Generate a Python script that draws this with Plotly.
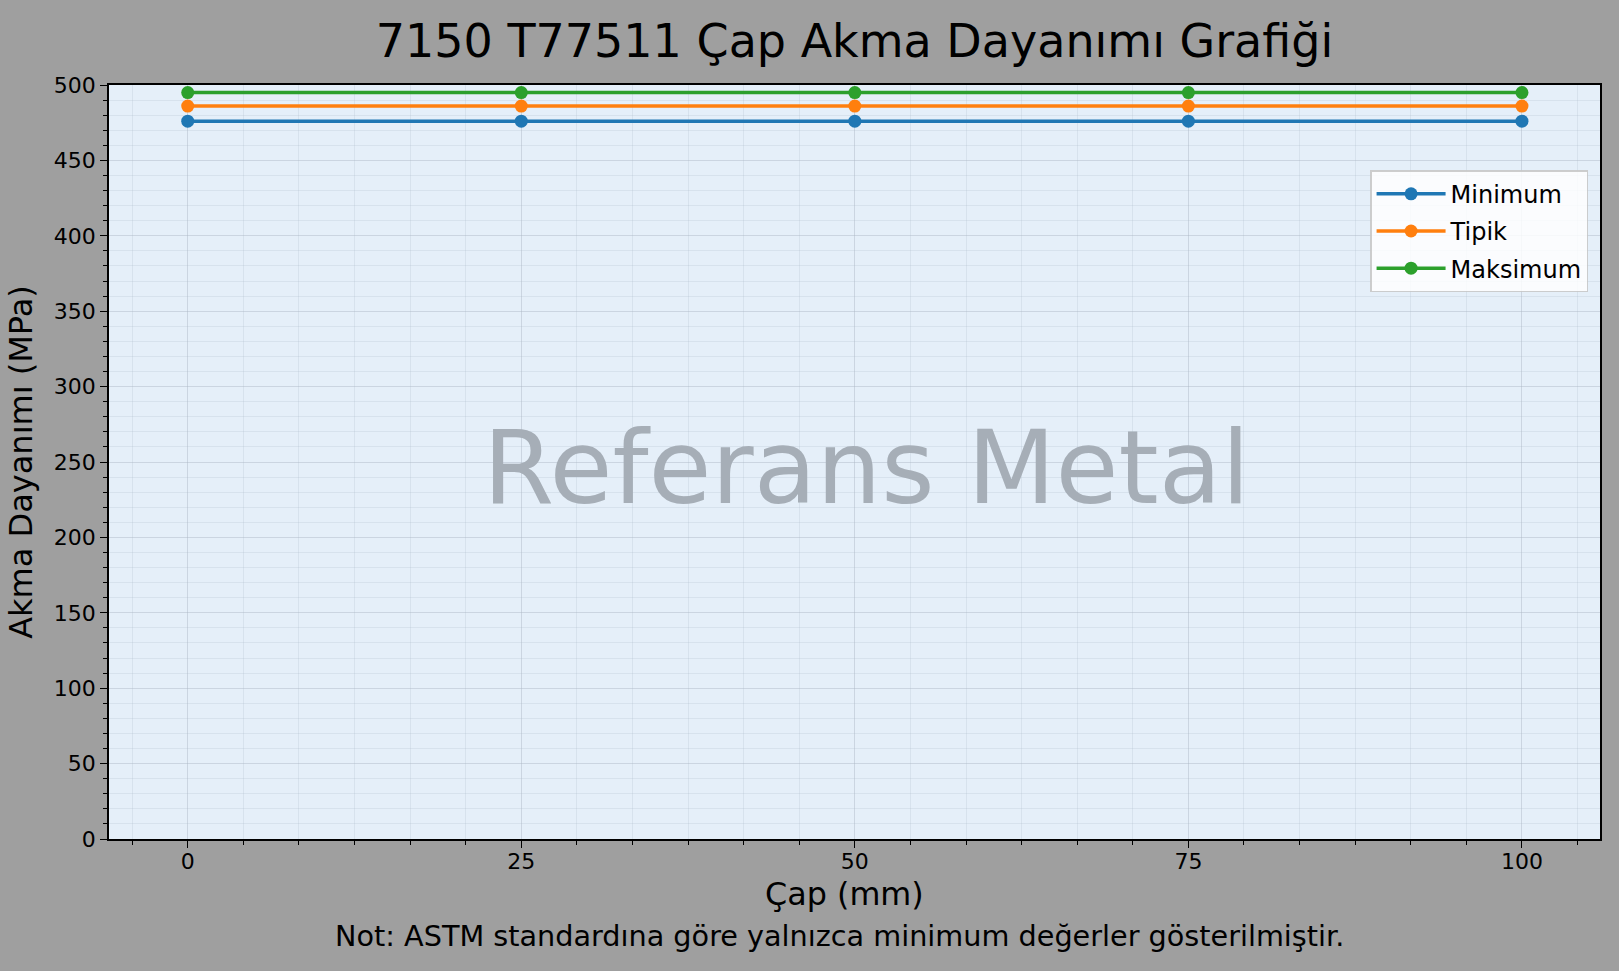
import plotly.graph_objects as go

# Chart data.
diameters = [0, 25, 50, 75, 100]
series_names = ["Minimum", "Tipik", "Maksimum"]
minimum = [476, 476, 476, 476, 476]
typical = [486, 486, 486, 486, 486]
maximum = [495, 495, 495, 495, 495]
colors = ["#1f77b4", "#ff7f0e", "#2ca02c"]

title = "7150 T77511 Çap Akma Dayanımı Grafiği"
x_title = "Çap (mm)"
y_title = "Akma Dayanımı (MPa)"
note = "Not: ASTM standardına göre yalnızca minimum değerler gösterilmiştir."
watermark = "Referans Metal"

FONT = "DejaVu Sans"


def main():
    fig = go.Figure()
    for name, values, color in zip(series_names, [minimum, typical, maximum], colors):
        fig.add_trace(go.Scatter(x=diameters, y=values, name=name, mode="lines+markers",
                                 legendgroup=name,
                                 line=dict(color=color, width=3.5),
                                 marker=dict(color=color, size=13)))

    grid = "rgba(170,182,196,0.45)"
    minor_grid = "rgba(170,182,196,0.22)"
    axis_style = dict(showline=True, linecolor="black", linewidth=1.5, mirror=True,
                      ticks="outside", ticklen=7, tickwidth=1.2, tickcolor="black",
                      showgrid=True, gridcolor=grid, gridwidth=1, zeroline=False,
                      tickfont=dict(family=FONT, size=22, color="black"))

    fig.update_xaxes(range=[-5.9, 105.85], tick0=0, dtick=25, ticklabelstandoff=-5,
                     minor=dict(dtick=25 / 6, tick0=0, ticks="outside", ticklen=4,
                                tickcolor="black", showgrid=True, gridcolor=minor_grid),
                     **axis_style)
    fig.update_yaxes(range=[0, 500], tick0=0, dtick=50,
                     minor=dict(dtick=10, ticks="outside", ticklen=4, tickcolor="black",
                                showgrid=True, gridcolor=minor_grid),
                     title=dict(text=y_title, font=dict(family=FONT, size=32, color="black"),
                                standoff=12),
                     **axis_style)

    # x title as an annotation so it can sit slightly left of centre, like the original
    fig.add_annotation(text=x_title, xref="paper", yref="paper", x=0.4936, y=-0.0725,
                       xanchor="center", yanchor="middle", showarrow=False,
                       font=dict(family=FONT, size=31.8, color="black"))
    fig.add_annotation(text=watermark, xref="paper", yref="paper", x=0.508, y=0.493,
                       showarrow=False, font=dict(family=FONT, size=102.4, color="#a6aeb7"))
    fig.add_annotation(text=note, xref="paper", yref="paper", x=0.49, y=-0.1286,
                       xanchor="center", yanchor="middle", showarrow=False,
                       font=dict(family=FONT, size=28.7, color="black"))

    fig.update_layout(
        width=1619, height=971,
        margin=dict(l=109, r=19, t=85, b=132),
        paper_bgcolor="#9f9f9f",
        plot_bgcolor="#e5eff9",
        title=dict(text=title, x=0.5, xref="paper", xanchor="center",
                   y=1 - 41 / 971, yanchor="middle",
                   font=dict(family=FONT, size=46, color="black")),
        legend=dict(x=0.992, y=0.887, xanchor="right", yanchor="top",
                    bgcolor="rgba(255,255,255,0.82)", bordercolor="rgba(200,200,200,0.9)",
                    borderwidth=1.5, font=dict(family=FONT, size=24, color="black"),
                    itemwidth=69, tracegroupgap=3),
        showlegend=True,
    )
    fig.write_html("out.html", config={"displayModeBar": False},
                   post_script="document.body.style.margin='0';")


if __name__ == "__main__":
    main()
